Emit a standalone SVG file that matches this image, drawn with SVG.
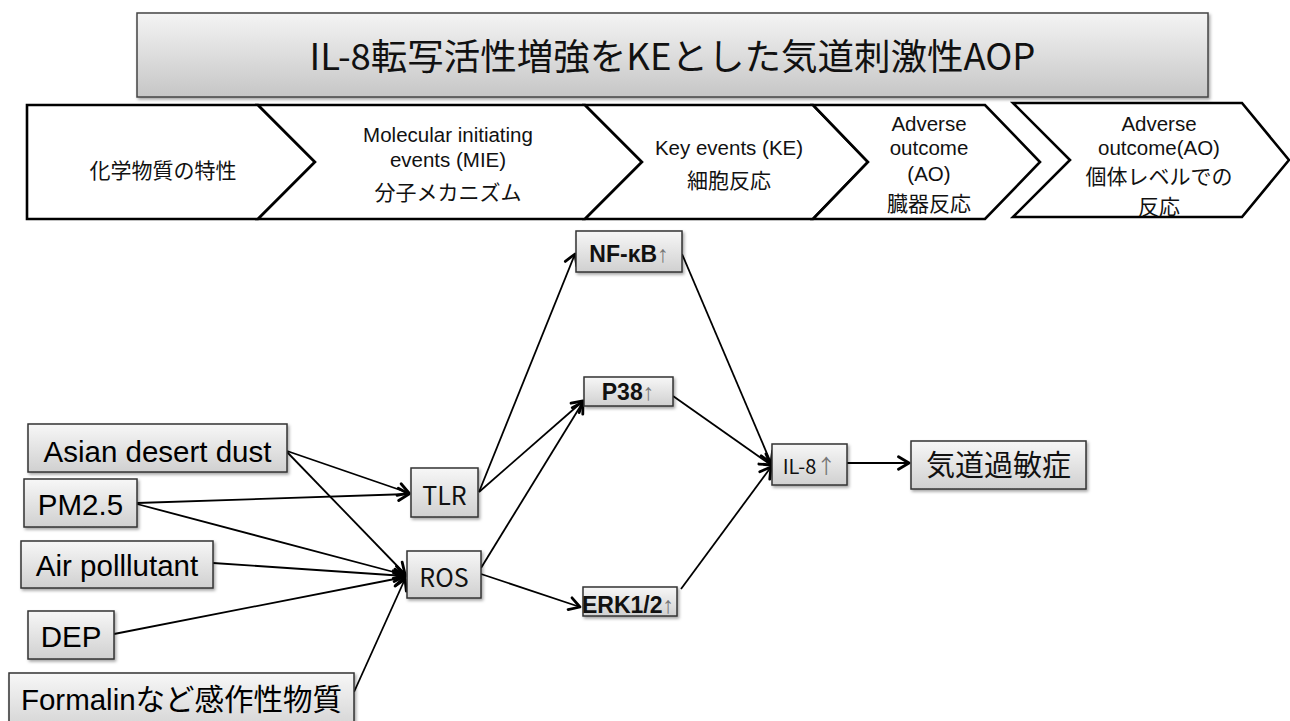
<svg xmlns="http://www.w3.org/2000/svg" width="1290" height="721" viewBox="0 0 1290 721">
<defs>
<linearGradient id="gBox" x1="0" y1="0" x2="0" y2="1">
<stop offset="0" stop-color="#f7f7f7"/>
<stop offset="1" stop-color="#d0d0d0"/>
</linearGradient>
<linearGradient id="gTitle" x1="0" y1="0" x2="0" y2="1">
<stop offset="0" stop-color="#f4f4f4"/>
<stop offset="1" stop-color="#c6c6c6"/>
</linearGradient>
<filter id="sh" x="-10%" y="-10%" width="130%" height="140%">
<feDropShadow dx="1.5" dy="2" stdDeviation="1.5" flood-color="#000" flood-opacity="0.35"/>
</filter>
<marker id="arr" markerUnits="userSpaceOnUse" markerWidth="16" markerHeight="16" viewBox="0 0 16 16" refX="13" refY="8" orient="auto">
<path d="M2.5,1.8 L13,8 L2.5,14.2" fill="none" stroke="#000" stroke-width="2.8" stroke-linecap="round" stroke-linejoin="round"/>
</marker>
<style>
.box{fill:url(#gBox);stroke:#333;stroke-width:1.5;filter:url(#sh)}
.chev{fill:#fff;stroke:#000;stroke-width:2.6;stroke-linejoin:miter}
.src{font-family:"Liberation Sans",Arial,"Noto Sans CJK JP",sans-serif;font-size:29.5px;fill:#000}
.jp{font-family:"Noto Sans CJK JP",sans-serif;fill:#111}
.cv{font-family:"Noto Sans CJK JP",sans-serif;font-size:21px;fill:#111;text-anchor:middle}
.cl{font-family:"Liberation Sans",Arial,sans-serif;font-size:20.5px;fill:#111;text-anchor:middle}
.bold{font-family:"Liberation Sans",Arial,sans-serif;font-weight:bold;font-size:23px;fill:#111}
.up{font-family:"Liberation Sans",Arial,sans-serif;font-weight:normal;fill:#777}
.conn line{stroke:#000;stroke-width:1.8;marker-end:url(#arr)}
</style>
</defs>
<rect width="1290" height="721" fill="#fff"/>

<g id="title">
<rect x="137" y="13" width="1071" height="84" fill="url(#gTitle)" stroke="#444" stroke-width="1.5" filter="url(#sh)"/>
<text class="jp" x="672.5" y="70" font-size="36.5" text-anchor="middle">IL-8転写活性増強をKEとした気道刺激性AOP</text>
</g>

<g id="stages">
<g id="stage1">
<polygon class="chev" points="27,105 258,105 315,162 258,219 27,219"/>
<text class="cv" x="163" y="178" font-size="23">化学物質の特性</text>
</g>
<g id="stage2">
<polygon class="chev" points="258,105 585,105 642,162 585,219 258,219 315,162"/>
<text class="cl" x="448" y="142">Molecular initiating</text>
<text class="cl" x="448" y="167">events (MIE)</text>
<text class="cv" x="448" y="200">分子メカニズム</text>
</g>
<g id="stage3">
<polygon class="chev" points="585,105 813,105 868,162 813,219 585,219 642,162"/>
<text class="cl" x="729" y="155">Key events (KE)</text>
<text class="cv" x="729" y="188">細胞反応</text>
</g>
<g id="stage4">
<polygon class="chev" points="813,105 985,105 1040,162 985,219 813,219 868,162"/>
<text class="cl" x="929" y="131">Adverse</text>
<text class="cl" x="929" y="155">outcome</text>
<text class="cl" x="929" y="181">(AO)</text>
<text class="cv" x="929" y="211">臓器反応</text>
</g>
<g id="stage5">
<polygon class="chev" points="1013,103 1242,103 1289,160 1242,217 1013,217 1070,160"/>
<text class="cl" x="1159" y="131">Adverse</text>
<text class="cl" x="1159" y="155">outcome(AO)</text>
<text class="cv" x="1159" y="184" font-size="20">個体レベルでの</text>
<text class="cv" x="1159" y="213.5" font-size="20">反応</text>
</g>
</g>

<g class="conn" id="connectors">
<line x1="287" y1="451" x2="409" y2="493"/>
<line x1="287" y1="452" x2="405" y2="574"/>
<line x1="137" y1="503" x2="409" y2="494"/>
<line x1="137" y1="504" x2="405" y2="575"/>
<line x1="213" y1="563" x2="405" y2="576"/>
<line x1="114" y1="634" x2="405" y2="577"/>
<line x1="354" y1="692" x2="405" y2="579"/>
<line x1="479" y1="492" x2="575" y2="254"/>
<line x1="479" y1="492" x2="583" y2="401"/>
<line x1="481" y1="568" x2="583" y2="402"/>
<line x1="481" y1="574" x2="580" y2="607"/>
<line x1="682" y1="254" x2="771" y2="463"/>
<line x1="673" y1="396" x2="771" y2="465"/>
<line x1="681" y1="589" x2="771" y2="467"/>
<line x1="847" y1="463" x2="909" y2="463"/>
</g>

<g id="n-asian"><rect class="box" x="28" y="424" width="259" height="48"/><text class="src" x="157.5" y="462" text-anchor="middle">Asian desert dust</text></g>
<g id="n-pm25"><rect class="box" x="24" y="479" width="113" height="48"/><text class="src" x="80.5" y="515" text-anchor="middle">PM2.5</text></g>
<g id="n-air"><rect class="box" x="21" y="541" width="192" height="47"/><text class="src" x="117" y="576" text-anchor="middle">Air polllutant</text></g>
<g id="n-dep"><rect class="box" x="28" y="611" width="86" height="48"/><text class="src" x="71" y="647" text-anchor="middle">DEP</text></g>
<g id="n-formalin"><rect class="box" x="9" y="673" width="345" height="62"/><text class="src" x="181.5" y="710" text-anchor="middle">Formalinなど感作性物質</text></g>

<g id="n-tlr"><rect class="box" x="411" y="468" width="67" height="49"/><text class="jp" x="444.5" y="505" font-size="25" text-anchor="middle">TLR</text></g>
<g id="n-ros"><rect class="box" x="407" y="551" width="74" height="47"/><text class="jp" x="444" y="587" font-size="25" text-anchor="middle">ROS</text></g>

<g id="n-nfkb"><rect class="box" x="576" y="231" width="106" height="41"/><text class="bold" x="629" y="262" text-anchor="middle">NF-κB<tspan class="up">↑</tspan></text></g>
<g id="n-p38"><rect class="box" x="584" y="377" width="89" height="29"/><text class="bold" x="628" y="400" text-anchor="middle">P38<tspan class="up">↑</tspan></text></g>
<g id="n-erk"><rect class="box" x="583" y="587" width="94" height="29"/><text class="bold" x="628" y="613" text-anchor="middle">ERK1/2<tspan class="up">↑</tspan></text></g>

<g id="n-il8"><rect class="box" x="772" y="444" width="75" height="41"/><text class="jp" x="809.5" y="474" font-size="20" text-anchor="middle">IL-8<tspan fill="#777">↑</tspan></text></g>
<g id="n-hyper"><rect class="box" x="911" y="441" width="175" height="48"/><text class="jp" x="998.5" y="476" font-size="29" text-anchor="middle">気道過敏症</text></g>
</svg>
